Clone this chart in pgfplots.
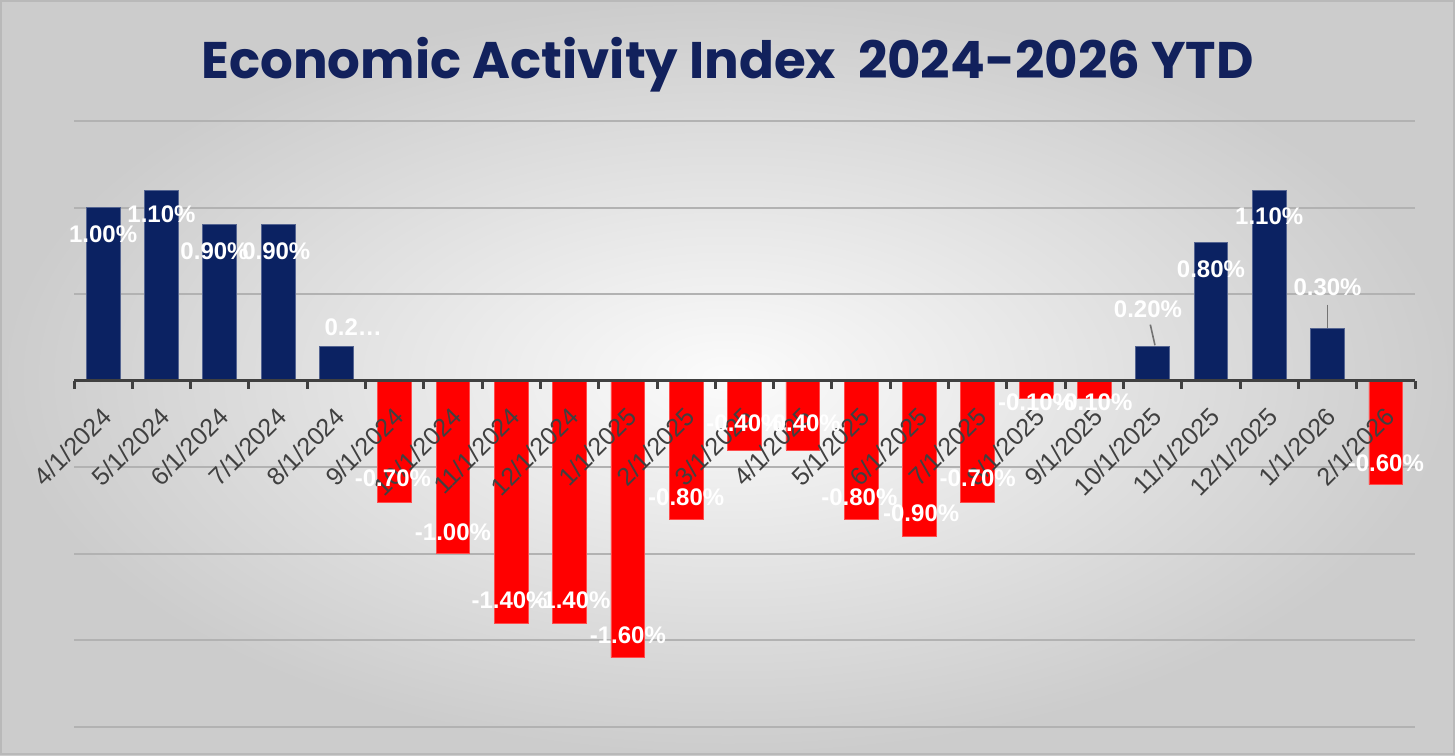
\documentclass[border=0pt]{standalone}
\usepackage{fontspec}
\setmainfont{Liberation Sans}
\newfontfamily\titlefont{Poppins}
\usepackage{pgfplots}
\pgfplotsset{compat=1.18}
\usepackage{pgfplotstable}

\definecolor{navy}{HTML}{0B2262}
\definecolor{barred}{HTML}{FF0000}
\definecolor{titleblue}{HTML}{12215C}
\definecolor{ticktext}{HTML}{404040}

\pgfplotsset{
  base/.style={
    at={(37pt,14pt)}, anchor=south west, scale only axis,
    width=670.5pt, height=303pt,
    xmin=-0.5, xmax=22.5, ymin=-2, ymax=1.5,
    clip=false,
  },
}

\pgfplotstableread{
x y
0 1.00
1 1.10
2 0.90
3 0.90
4 0.20
18 0.20
19 0.80
20 1.10
21 0.30
}\postable

\pgfplotstableread{
x y
5 -0.70
6 -1.00
7 -1.40
8 -1.40
9 -1.60
10 -0.80
11 -0.40
12 -0.40
13 -0.80
14 -0.90
15 -0.70
16 -0.10
17 -0.10
22 -0.60
}\negtable

\begin{document}
\begin{tikzpicture}[x=1pt,y=1pt]
\shade[inner color=white!97!gray, outer color=gray!40] (0,0) rectangle (727.5,377.5);
\draw[gray!55, line width=1pt] (0.5,0.5) rectangle (727,377);
\node[anchor=base, text=titleblue, inner sep=0pt] at (363.75,338) {\resizebox{526pt}{!}{\titlefont\bfseries Economic Activity Index\ \ 2024-2026 YTD}};
% axis 1: grid, bars, axis line, ticks
\begin{axis}[
  base,
  axis x line=middle, axis y line=left,
  y axis line style={draw=none},
  x axis line style={-, color=ticktext, line width=1.5pt},
  xtick={0,...,22}, xticklabels={},
  major x tick style={draw=none},
  minor xtick={-0.5,0.5,...,22.5},
  minor x tick style={color=ticktext, line width=1.5pt},
  minor tick length=4pt,
  tick align=outside,
  ytick={-2,-1.5,...,1.5}, yticklabels={}, major y tick style={draw=none},
  ymajorgrids, grid style={color=gray!60, line width=1pt},
  axis on top=false,
]
\addplot[ybar, bar width=0.58, bar shift=0pt, fill=navy, draw=navy!70!white, line width=0.4pt] table[x=x,y=y]{\postable};
\addplot[ybar, bar width=0.58, bar shift=0pt, fill=barred, draw=barred!70!white, line width=0.4pt] table[x=x,y=y]{\negtable};
\addplot[draw=gray!90!black, line width=0.8pt, mark=none] coordinates {(17.96,0.324) (18.04,0.205)};
\addplot[draw=gray!90!black, line width=0.8pt, mark=none] coordinates {(21.0,0.44) (21.0,0.305)};
\end{axis}
% axis 2: category labels and value labels on top
\begin{axis}[
  base,
  axis x line=middle, axis y line=none,
  x axis line style={-, color=ticktext, line width=1.5pt},
  xtick={0,...,22},
  xticklabels={4/1/2024,5/1/2024,6/1/2024,7/1/2024,8/1/2024,9/1/2024,10/1/2024,11/1/2024,12/1/2024,1/1/2025,2/1/2025,3/1/2025,4/1/2025,5/1/2025,6/1/2025,7/1/2025,8/1/2025,9/1/2025,10/1/2025,11/1/2025,12/1/2025,1/1/2026,2/1/2026},
  major x tick style={draw=none},
  xticklabel style={rotate=45, anchor=east, font=\fontsize{12.5}{12.5}\selectfont, text=ticktext, inner sep=1pt, xshift=-7pt, yshift=-11pt},
]
\addplot[draw=none, mark=none, nodes near coords, point meta=explicit symbolic,
  every node near coord/.style={anchor=center, text=white, inner sep=0pt, font=\bfseries\fontsize{12}{12}\selectfont}]
coordinates {
(0,0.844) [1.00\%]
(1,0.96) [1.10\%]
(1.91,0.746) [0.90\%]
(2.97,0.746) [0.90\%]
(4.29,0.306) [0.2…]
(4.97,-0.561) [-0.70\%]
(6,-0.873) [-1.00\%]
(6.97,-1.266) [-1.40\%]
(8.05,-1.266) [-1.40\%]
(9,-1.468) [-1.60\%]
(10,-0.671) [-0.80\%]
(11,-0.243) [-0.40\%]
(12,-0.243) [-0.40\%]
(12.97,-0.671) [-0.80\%]
(14.03,-0.763) [-0.90\%]
(15,-0.561) [-0.70\%]
(16,-0.127) [-0.10\%]
(17,-0.127) [-0.10\%]
(17.92,0.41) [0.20\%]
(19,0.642) [0.80\%]
(20,0.948) [1.10\%]
(21,0.538) [0.30\%]
(22,-0.474) [-0.60\%]
};
\end{axis}
\pgfresetboundingbox
\path (0,0) rectangle (727.5,377.5);
\end{tikzpicture}
\end{document}
